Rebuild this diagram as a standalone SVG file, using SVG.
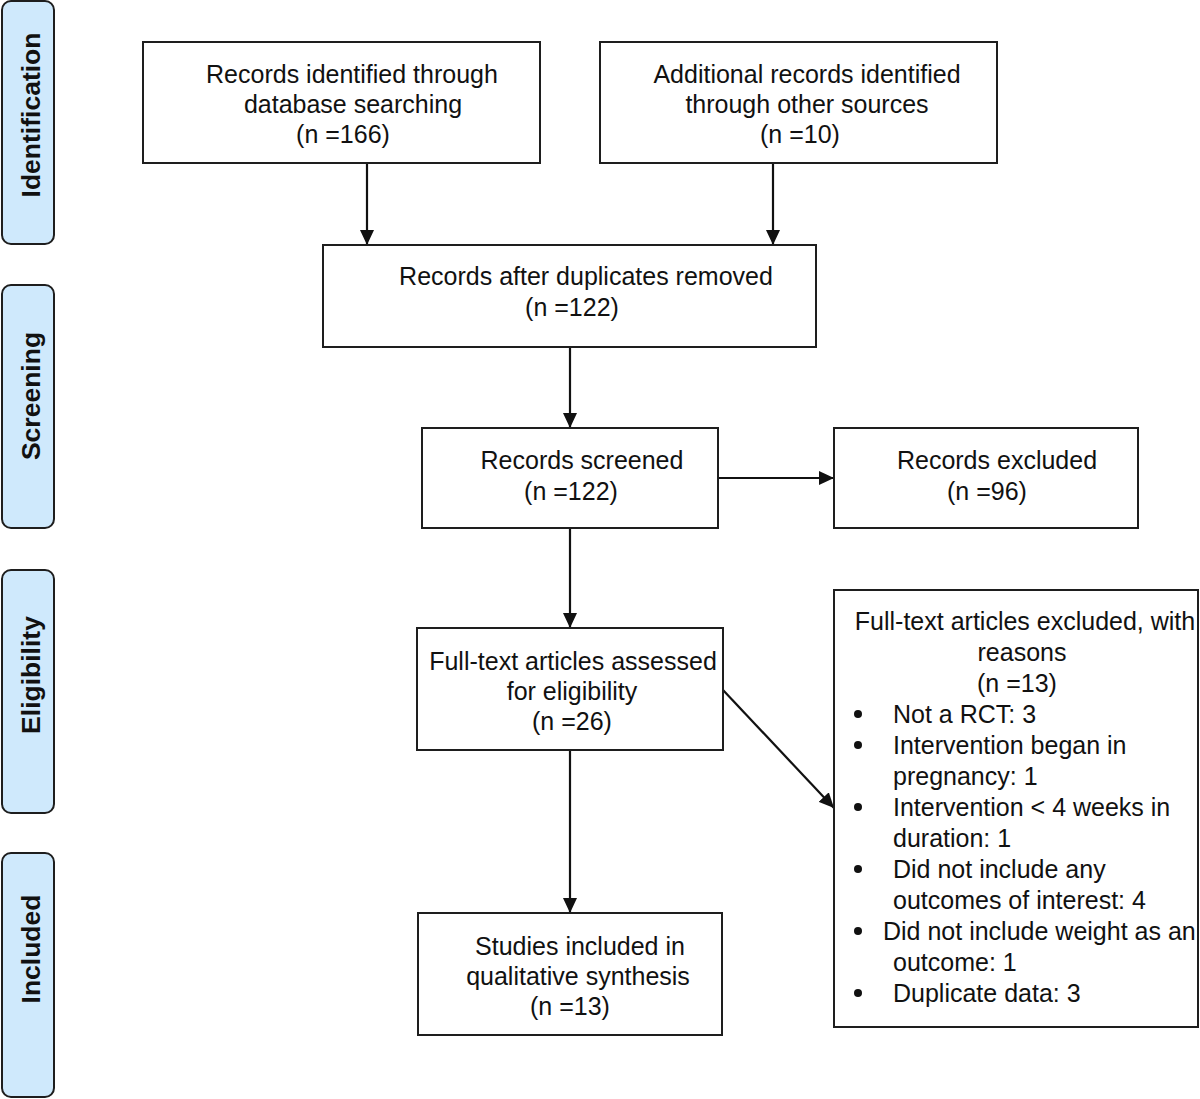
<svg xmlns="http://www.w3.org/2000/svg" width="1200" height="1099" viewBox="0 0 1200 1099">
<style>
.bg{fill:#ffffff}
.stage rect{fill:#cfe9fc;stroke:#1e1e1e;stroke-width:2}
.stage text{font-family:"Liberation Sans",Arial,sans-serif;font-weight:bold;font-size:26.5px;fill:#111;text-anchor:middle}
.node rect{fill:#ffffff;stroke:#1e1e1e;stroke-width:2}
.node text{font-family:"Liberation Sans",Arial,sans-serif;font-size:25px;fill:#111;text-anchor:middle}
.node text.l{text-anchor:start}
.node circle{fill:#111}
#connectors line{stroke:#111;stroke-width:2.2;fill:none;marker-end:url(#arr)}
</style>
<defs>
<marker id="arr" viewBox="0 0 15 14" refX="15" refY="7" markerWidth="15" markerHeight="14" markerUnits="userSpaceOnUse" orient="auto">
<path d="M0,0 L15,7 L0,14 z" fill="#111"/>
</marker>
</defs>
<rect class="bg" x="0" y="0" width="1200" height="1099"/>

<g id="stage-identification" class="stage">
<rect x="2" y="1" width="52" height="243" rx="9"/>
<text transform="translate(40,115) rotate(-90)">Identification</text>
</g>
<g id="stage-screening" class="stage">
<rect x="2" y="285" width="52" height="243" rx="9"/>
<text transform="translate(40,396) rotate(-90)">Screening</text>
</g>
<g id="stage-eligibility" class="stage">
<rect x="2" y="570" width="52" height="243" rx="9"/>
<text transform="translate(40,675) rotate(-90)">Eligibility</text>
</g>
<g id="stage-included" class="stage">
<rect x="2" y="853" width="52" height="244" rx="9"/>
<text transform="translate(40,949) rotate(-90)">Included</text>
</g>

<g id="connectors">
<line x1="367" y1="163" x2="367" y2="245"/>
<line x1="773" y1="163" x2="773" y2="245"/>
<line x1="570" y1="347" x2="570" y2="428"/>
<line x1="718" y1="478" x2="834" y2="478"/>
<line x1="570" y1="528" x2="570" y2="628"/>
<line x1="723" y1="690" x2="834" y2="808"/>
<line x1="570" y1="750" x2="570" y2="913"/>
</g>

<g id="node-database" class="node">
<rect x="143" y="42" width="397" height="121"/>
<text x="352" y="83">Records identified through</text>
<text x="353" y="113">database searching</text>
<text x="343" y="143">(n =166)</text>
</g>

<g id="node-other" class="node">
<rect x="600" y="42" width="397" height="121"/>
<text x="807" y="83">Additional records identified</text>
<text x="807" y="113">through other sources</text>
<text x="800" y="143">(n =10)</text>
</g>

<g id="node-duplicates" class="node">
<rect x="323" y="245" width="493" height="102"/>
<text x="586" y="285">Records after duplicates removed</text>
<text x="572" y="316">(n =122)</text>
</g>

<g id="node-screened" class="node">
<rect x="422" y="428" width="296" height="100"/>
<text x="582" y="469">Records screened</text>
<text x="571" y="500">(n =122)</text>
</g>

<g id="node-excluded" class="node">
<rect x="834" y="428" width="304" height="100"/>
<text x="997" y="469">Records excluded</text>
<text x="987" y="500">(n =96)</text>
</g>

<g id="node-fulltext" class="node">
<rect x="417" y="628" width="306" height="122"/>
<text x="573" y="670">Full-text articles assessed</text>
<text x="572" y="700">for eligibility</text>
<text x="572" y="730">(n =26)</text>
</g>

<g id="node-fulltext-excluded" class="node">
<rect x="834" y="590" width="364" height="437"/>
<text x="1025" y="630">Full-text articles excluded, with</text>
<text x="1022" y="661">reasons</text>
<text x="1017" y="692">(n =13)</text>
<circle cx="858" cy="714" r="4"/>
<text class="l" x="893" y="723">Not a RCT: 3</text>
<circle cx="858" cy="745" r="4"/>
<text class="l" x="893" y="754">Intervention began in</text>
<text class="l" x="893" y="785">pregnancy: 1</text>
<circle cx="858" cy="807" r="4"/>
<text class="l" x="893" y="816">Intervention &lt; 4 weeks in</text>
<text class="l" x="893" y="847">duration: 1</text>
<circle cx="858" cy="869" r="4"/>
<text class="l" x="893" y="878">Did not include any</text>
<text class="l" x="893" y="909">outcomes of interest: 4</text>
<circle cx="858" cy="931" r="4"/>
<text class="l" x="883" y="940">Did not include weight as an</text>
<text class="l" x="893" y="971">outcome: 1</text>
<circle cx="858" cy="993" r="4"/>
<text class="l" x="893" y="1002">Duplicate data: 3</text>
</g>

<g id="node-included" class="node">
<rect x="418" y="913" width="304" height="122"/>
<text x="580" y="955">Studies included in</text>
<text x="578" y="985">qualitative synthesis</text>
<text x="570" y="1015">(n =13)</text>
</g>
</svg>
